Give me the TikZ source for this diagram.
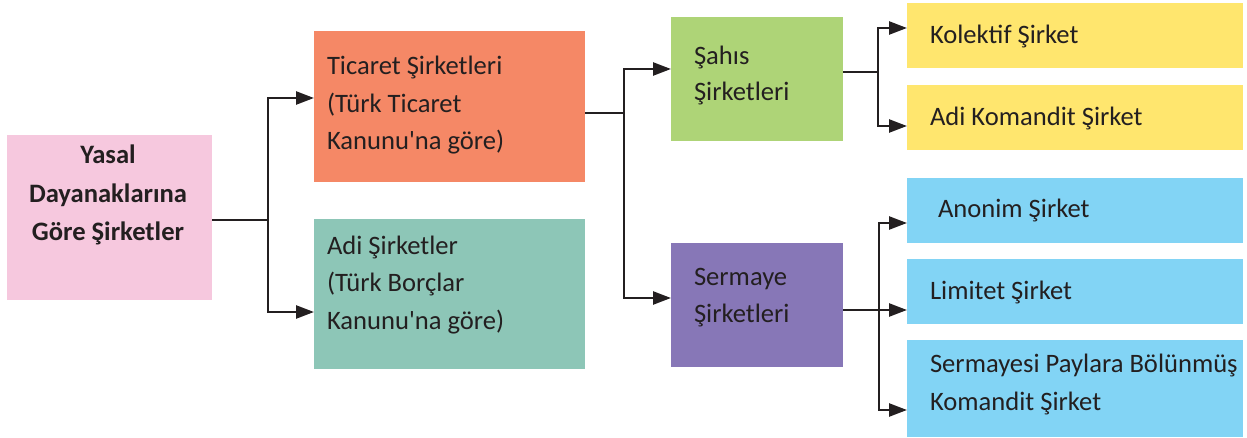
\documentclass[tikz,border=0pt]{standalone}
\usepackage{fontspec}
\setmainfont{Carlito}[Ligatures=TeXOff]
\usetikzlibrary{arrows.meta}
\definecolor{cpink}{HTML}{F6C8DE}
\definecolor{corange}{HTML}{F58866}
\definecolor{cteal}{HTML}{8DC6B7}
\definecolor{cgreen}{HTML}{AED477}
\definecolor{cpurple}{HTML}{8777B7}
\definecolor{cyellow}{HTML}{FFE66E}
\definecolor{cblue}{HTML}{82D4F5}
\definecolor{ctext}{HTML}{231F20}
\begin{document}
\begin{tikzpicture}[x=1pt,y=-1pt,
  box/.style={draw=none,rectangle,inner sep=0,outer sep=0,anchor=north west},
  lbl/.style={inner sep=0,outer sep=0,anchor=base west,text=ctext,align=left,
    font=\fontsize{26.6}{37.5}\selectfont},
  ln/.style={line width=2.5pt,draw=ctext},
  arr/.style={ln,-{Triangle[length=18pt,width=13pt]}}]
\useasboundingbox (0,0) rectangle (1247,438);
% boxes
\node[box,fill=cpink,minimum width=205,minimum height=165] (pink) at (7,135) {};
\node[box,fill=corange,minimum width=271,minimum height=151] (tic) at (314,31) {};
\node[box,fill=cteal,minimum width=271,minimum height=150] (adi) at (314,219) {};
\node[box,fill=cgreen,minimum width=172,minimum height=124] (sah) at (671,17) {};
\node[box,fill=cpurple,minimum width=172,minimum height=124] (ser) at (671,243) {};
\node[box,fill=cyellow,minimum width=336,minimum height=65] (kol) at (907,3) {};
\node[box,fill=cyellow,minimum width=336,minimum height=65] (adk) at (907,85) {};
\node[box,fill=cblue,minimum width=336,minimum height=65] (ano) at (907,178) {};
\node[box,fill=cblue,minimum width=336,minimum height=65] (lim) at (907,259) {};
\node[box,fill=cblue,minimum width=336,minimum height=97] (spk) at (907,340) {};
% texts (base anchor = baseline of the last line)
\node[lbl,anchor=base,align=center,font=\fontsize{26.6}{38.5}\selectfont\bfseries] (tpink) at (108,241) {Yasal\\Dayanaklarına\\Göre Şirketler};
\node[lbl] (ttic) at (327,150) {Ticaret Şirketleri\\(Türk Ticaret\\Kanunu'na göre)};
\node[lbl] (tadi) at (327,329) {Adi Şirketler\\(Türk Borçlar\\Kanunu'na göre)};
\node[lbl,font=\fontsize{26.6}{36}\selectfont] (tsah) at (694,101) {Şahıs\\Şirketleri};
\node[lbl,font=\fontsize{26.6}{36}\selectfont] (tser) at (694,322) {Sermaye\\Şirketleri};
\node[lbl] (tkol) at (930,44) {Kolektif Şirket};
\node[lbl] (tadk) at (930,126) {Adi Komandit Şirket};
\node[lbl] (tano) at (938,218) {Anonim Şirket};
\node[lbl] (tlim) at (930,299) {Limitet Şirket};
\node[lbl] (tspk) at (930,410) {Sermayesi Paylara Bölünmüş\\Komandit Şirket};
% connectors
\coordinate (f1) at (268,220);
\coordinate (f2) at (624,113);
\coordinate (f3) at (878,72);
\coordinate (f4) at (879,310);
\draw[ln] (pink.east |- f1) -- (f1);
\draw[arr] (f1) |- (tic.west |- 0,98);
\draw[arr] (f1) |- (adi.west |- 0,312);
\draw[ln] (tic.east |- f2) -- (f2);
\draw[arr] (f2) |- (sah.west |- 0,69);
\draw[arr] (f2) |- (ser.west |- 0,298);
\draw[ln] (sah.east |- f3) -- (f3);
\draw[arr] (f3) |- (kol.west |- 0,28);
\draw[arr] (f3) |- (adk.west |- 0,126);
\draw[arr] (ser.east |- f4) -- (lim.west |- f4);
\draw[arr] (f4) |- (ano.west |- 0,223);
\draw[arr] (f4) |- (spk.west |- 0,410);
\end{tikzpicture}
\end{document}
